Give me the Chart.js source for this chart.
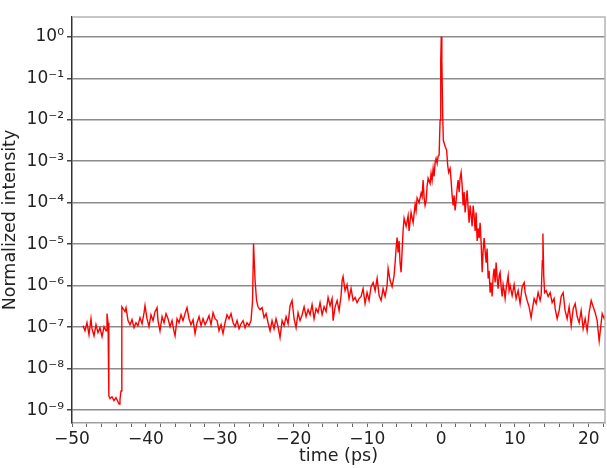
<!DOCTYPE html>
<html>
<head>
<meta charset="utf-8">
<script src="https://cdn.jsdelivr.net/npm/chart.js@4/dist/chart.umd.min.js"></script>
<style>
  body { margin: 0; background: #fff; }
  #wrap { width: 607px; height: 468px; }
</style>
</head>
<body>
<div id="wrap"><canvas id="traceChart" width="607" height="468"></canvas></div>
<script>
// time axis (ps) and normalized intensity
const times = [
  -48.51, -48.24, -47.97, -47.70, -47.43, -47.29, -47.02, -46.75, -46.48, -46.21,
  -45.93, -45.66, -45.39, -45.26, -45.12, -45.01, -44.85, -44.58, -44.31, -44.04,
  -43.77, -43.63, -43.50, -43.36, -43.25, -43.09, -42.82, -42.68, -42.41, -42.14,
  -41.87, -41.60, -41.33, -41.06, -40.79, -40.51, -40.24, -40.11, -39.84, -39.57,
  -39.30, -39.02, -38.75, -38.48, -38.35, -38.08, -37.80, -37.53, -37.26, -36.99,
  -36.72, -36.45, -36.18, -36.04, -35.77, -35.50, -35.23, -34.96, -34.69, -34.42,
  -34.15, -33.88, -33.60, -33.33, -33.06, -32.79, -32.52, -32.25, -31.98, -31.71,
  -31.44, -31.17, -30.89, -30.62, -30.35, -30.08, -29.81, -29.54, -29.27, -29.00,
  -28.73, -28.46, -28.18, -27.91, -27.64, -27.37, -27.10, -26.83, -26.56, -26.29,
  -26.02, -25.75, -25.54, -25.41, -25.20, -25.00, -24.80, -24.53, -24.25, -23.98,
  -23.71, -23.44, -23.17, -22.90, -22.63, -22.36, -22.09, -21.82, -21.54, -21.27,
  -21.00, -20.73, -20.46, -20.19, -19.92, -19.65, -19.38, -19.11, -18.83, -18.56,
  -18.29, -18.02, -17.75, -17.48, -17.21, -16.94, -16.67, -16.40, -16.12, -15.85,
  -15.58, -15.31, -15.04, -14.77, -14.63, -14.36, -14.09, -13.82, -13.55, -13.41,
  -13.28, -13.01, -12.74, -12.47, -12.20, -11.92, -11.65, -11.38, -11.11, -10.84,
  -10.57, -10.30, -10.03, -9.76, -9.49, -9.21, -8.94, -8.67, -8.40, -8.13,
  -7.86, -7.59, -7.32, -7.18, -6.91, -6.64, -6.37, -6.23, -6.10, -5.96,
  -5.83, -5.69, -5.56, -5.42, -5.28, -5.15, -5.01, -4.74, -4.47, -4.34,
  -4.07, -3.79, -3.52, -3.39, -3.25, -2.98, -2.71, -2.57, -2.44, -2.30,
  -2.17, -2.03, -1.90, -1.76, -1.49, -1.36, -1.22, -1.08, -0.95, -0.81,
  -0.68, -0.54, -0.41, -0.27, -0.14, -0.05, 0.02, 0.10, 0.20, 0.30,
  0.54, 0.75, 0.89, 1.02, 1.22, 1.35, 1.49, 1.63, 1.76, 1.90,
  2.03, 2.17, 2.30, 2.44, 2.57, 2.71, 2.85, 2.98, 3.12, 3.25,
  3.39, 3.52, 3.66, 3.79, 3.93, 4.07, 4.20, 4.34, 4.47, 4.61,
  4.74, 4.88, 5.01, 5.15, 5.28, 5.42, 5.56, 5.69, 5.83, 5.96,
  6.10, 6.23, 6.37, 6.50, 6.64, 6.77, 6.91, 7.05, 7.18, 7.32,
  7.45, 7.59, 7.72, 7.86, 7.99, 8.13, 8.27, 8.40, 8.54, 8.67,
  8.81, 8.94, 9.08, 9.21, 9.35, 9.62, 9.89, 10.16, 10.43, 10.70,
  10.98, 11.25, 11.38, 11.65, 11.92, 12.19, 12.33, 12.60, 12.87, 13.14,
  13.41, 13.55, 13.71, 13.79, 13.90, 14.02, 14.23, 14.50, 14.77, 15.04,
  15.31, 15.45, 15.72, 15.99, 16.26, 16.53, 16.80, 17.07, 17.34, 17.62,
  17.89, 18.16, 18.43, 18.70, 18.97, 19.24, 19.51, 19.78, 20.05, 20.33,
  20.60, 20.87, 21.14, 21.27, 21.41, 21.68, 21.82, 22.09, 22.22
];

const intensity = [
  1.09e-7, 8.2e-8, 1.28e-7, 6.6e-8, 1.6e-7, 9.2e-8, 6.2e-8, 1.15e-7, 7.4e-8, 9.7e-8,
  5.9e-8, 1.03e-7, 8.2e-8, 2.12e-7, 1.28e-7, 2.2e-9, 1.9e-9, 2.1e-9, 1.7e-9, 2.0e-9,
  1.6e-9, 1.4e-9, 1.8e-9, 2.9e-9, 3.1e-7, 2.8e-7, 2.37e-7, 2.96e-7, 1.44e-7, 1.15e-7,
  1.52e-7, 9.7e-8, 1.28e-7, 1.09e-7, 1.7e-7, 1.21e-7, 2.24e-7, 3.3e-7, 1.6e-7, 1.03e-7,
  2.0e-7, 1.44e-7, 2.37e-7, 2.96e-7, 1.44e-7, 8.2e-8, 1.8e-7, 1.28e-7, 2.12e-7, 1.6e-7,
  1.03e-7, 1.44e-7, 7.8e-8, 6.2e-8, 1.6e-7, 1.28e-7, 2.0e-7, 1.44e-7, 2.12e-7, 2.96e-7,
  1.6e-7, 1.15e-7, 1.52e-7, 7.0e-8, 1.28e-7, 1.8e-7, 1.09e-7, 1.6e-7, 1.15e-7, 1.44e-7,
  1.9e-7, 1.15e-7, 2.24e-7, 1.6e-7, 1.44e-7, 8.2e-8, 1.15e-7, 7.0e-8, 1.28e-7, 2.0e-7,
  1.6e-7, 2.12e-7, 1.28e-7, 1.03e-7, 1.44e-7, 9.2e-8, 1.21e-7, 1.44e-7, 9.7e-8, 1.28e-7,
  1.09e-7, 1.44e-7, 4.4e-7, 1.04e-5, 1.33e-6, 4.4e-7, 3.1e-7, 2.65e-7, 2.96e-7, 1.7e-7,
  2.12e-7, 1.28e-7, 8.2e-8, 1.44e-7, 9.2e-8, 1.6e-7, 1.03e-7, 5.6e-8, 1.44e-7, 1.09e-7,
  1.8e-7, 1.21e-7, 3.3e-7, 4.4e-7, 1.6e-7, 9.7e-8, 2.24e-7, 1.44e-7, 2.0e-7, 3.1e-7,
  1.8e-7, 2.65e-7, 2.0e-7, 3.5e-7, 1.6e-7, 2.8e-7, 2.24e-7, 3.9e-7, 2.0e-7, 3.1e-7,
  2.37e-7, 5.2e-7, 3.3e-7, 4.9e-7, 1.44e-7, 3.1e-7, 4.4e-7, 2.5e-7, 5.8e-7, 1.33e-6,
  1.66e-6, 7.6e-7, 1.06e-6, 4.9e-7, 8.5e-7, 4.4e-7, 5.2e-7, 3.9e-7, 4.9e-7, 5.5e-7,
  8.5e-7, 3.7e-7, 6.8e-7, 4.4e-7, 9.5e-7, 1.19e-6, 7.6e-7, 1.5e-6, 5.8e-7, 4.4e-7,
  8.5e-7, 5.5e-7, 1.0e-6, 2.6e-6, 1.33e-6, 9.5e-7, 1.75e-6, 3.6e-6, 7.9e-6, 1.45e-5,
  6.3e-6, 1.2e-5, 3.6e-6, 2.1e-6, 7.0e-6, 2.1e-5, 4.2e-5, 2.7e-5, 4.9e-5, 2.1e-5,
  5.8e-5, 3.3e-5, 9.1e-5, 6.5e-5, 1.3e-4, 1.0e-4, 1.7e-4, 1.4e-4, 3.5e-4, 1.3e-4,
  8.6e-5, 1.1e-4, 2.5e-4, 3.9e-4, 2.9e-4, 5.1e-4, 3.5e-4, 6.7e-4, 4.3e-4, 9.4e-4,
  1.17e-3, 8.9e-4, 1.31e-3, 1.39e-3, 9.7e-3, 0.27, 1.0, 0.27, 0.017, 3.2e-3,
  2.3e-3, 1.83e-3, 8.0e-4, 5.4e-4, 6.7e-4, 3.5e-4, 1.5e-4, 8.6e-5, 1.5e-4, 6.5e-5,
  1.1e-4, 2.2e-4, 3.5e-4, 1.8e-4, 3.9e-4, 5.4e-4, 2.6e-4, 8.6e-5, 1.8e-4, 5.8e-5,
  1.1e-4, 2.0e-4, 7.3e-5, 3.3e-5, 8.6e-5, 4.9e-5, 2.7e-5, 8.6e-5, 4.9e-5, 2.1e-5,
  5.8e-5, 1.2e-5, 2.4e-5, 1.4e-5, 3.3e-5, 1.1e-5, 2.1e-6, 7.0e-6, 1.4e-5, 7.0e-6,
  3.6e-6, 7.9e-6, 1.5e-6, 2.3e-6, 6.8e-7, 1.19e-6, 5.5e-7, 1.66e-6, 2.6e-6, 1.19e-6,
  3.6e-6, 1.5e-6, 8.5e-7, 1.75e-6, 2.1e-6, 9.5e-7, 5.5e-7, 1.06e-6, 7.6e-7, 4.9e-7,
  8.5e-7, 1.19e-6, 1.75e-6, 7.6e-7, 1.0e-6, 5.8e-7, 1.06e-6, 4.9e-7, 7.6e-7, 3.7e-7,
  9.5e-7, 1.19e-6, 6.8e-7, 4.4e-7, 3.1e-7, 1.7e-7, 2.5e-7, 4.9e-7, 3.7e-7, 6.8e-7,
  4.4e-7, 5.8e-7, 4.0e-6, 1.8e-5, 1.75e-6, 6.8e-7, 7.6e-7, 5.5e-7, 6.8e-7, 3.9e-7,
  4.9e-7, 2.8e-7, 1.6e-7, 2.5e-7, 5.5e-7, 6.8e-7, 2.5e-7, 1.6e-7, 3.1e-7, 1.09e-7,
  2.8e-7, 3.7e-7, 1.8e-7, 1.28e-7, 2.5e-7, 9.2e-8, 1.6e-7, 8.2e-8, 2.24e-7, 4.4e-7,
  3.1e-7, 2.24e-7, 1.44e-7, 8.2e-8, 4.7e-8, 1.28e-7, 2.12e-7, 1.6e-7, 1.9e-7
];

// axis ticks
const xTicks = [-50, -48, -46, -44, -42, -40, -38, -36, -34, -32, -30, -28, -26, -24, -22,
  -20, -18, -16, -14, -12, -10, -8, -6, -4, -2, 0, 2, 4, 6, 8, 10, 12, 14, 16, 18, 20, 22];
const yTicks = [1e0, 1e-1, 1e-2, 1e-3, 1e-4, 1e-5, 1e-6, 1e-7, 1e-8, 1e-9];
const yTickLabels = ['10⁰', '10⁻¹', '10⁻²', '10⁻³', '10⁻⁴', '10⁻⁵', '10⁻⁶', '10⁻⁷', '10⁻⁸', '10⁻⁹'];

const FONT = 'DejaVu Sans';

// top and right frame lines of the plot box
const frameBox = {
    id: 'frameBox',
    afterDraw(chart) {
        const { ctx, chartArea } = chart;
        ctx.save();
        ctx.strokeStyle = '#b5b5b5';
        ctx.lineWidth = 1.5;
        ctx.beginPath();
        ctx.moveTo(chartArea.left, chartArea.top);
        ctx.lineTo(chartArea.right, chartArea.top);
        ctx.lineTo(chartArea.right, chartArea.bottom);
        ctx.stroke();
        ctx.restore();
    }
};

const ctx = document.getElementById('traceChart').getContext('2d');

new Chart(ctx, {
    type: 'line',
    data: {
        datasets: [{
            data: times.map((t, i) => ({ x: t, y: intensity[i] })),
            borderColor: '#ff0000',
            borderWidth: 1.4,
            pointRadius: 0,
            tension: 0,
            fill: false
        }]
    },
    options: {
        responsive: false,
        animation: false,
        layout: { padding: { top: 17, right: 2, left: 0, bottom: 0 } },
        plugins: { legend: { display: false }, tooltip: { enabled: false } },
        scales: {
            x: {
                type: 'linear',
                min: -50,
                max: 22.2,
                afterBuildTicks: scale => { scale.ticks = xTicks.map(v => ({ value: v })); },
                afterFit: scale => { scale.height = 45; },
                ticks: {
                    autoSkip: false,
                    maxRotation: 0,
                    padding: 2,
                    color: '#222',
                    font: { family: FONT, size: 17 },
                    callback: v => (v % 10 === 0 ? String(v).replace('-', '\u2212') : '')
                },
                grid: {
                    drawOnChartArea: false,
                    drawTicks: true,
                    tickLength: 4,
                    tickColor: '#666'
                },
                border: { color: '#a0a0a0', width: 1.5 },
                title: {
                    display: true,
                    text: 'time (ps)',
                    color: '#222',
                    font: { family: FONT, size: 17.5 },
                    padding: { top: 0, bottom: 1 }
                }
            },
            y: {
                type: 'logarithmic',
                min: 4.9e-10,
                max: 3,
                afterBuildTicks: scale => { scale.ticks = yTicks.map(v => ({ value: v, major: true })); },
                afterFit: scale => { scale.width = 72; },
                ticks: {
                    autoSkip: false,
                    padding: 3,
                    color: '#222',
                    font: { family: FONT, size: 17 },
                    callback: (v, i) => yTickLabels[i]
                },
                grid: {
                    color: '#8c8c8c',
                    lineWidth: 1.5,
                    drawTicks: true,
                    tickLength: 5,
                    tickColor: '#444'
                },
                border: { color: '#333', width: 1.5 },
                title: {
                    display: true,
                    text: 'Normalized intensity',
                    color: '#222',
                    font: { family: FONT, size: 17.5 },
                    padding: { top: 0, bottom: 2 }
                }
            }
        }
    },
    plugins: [frameBox]
});
</script>
</body>
</html>
